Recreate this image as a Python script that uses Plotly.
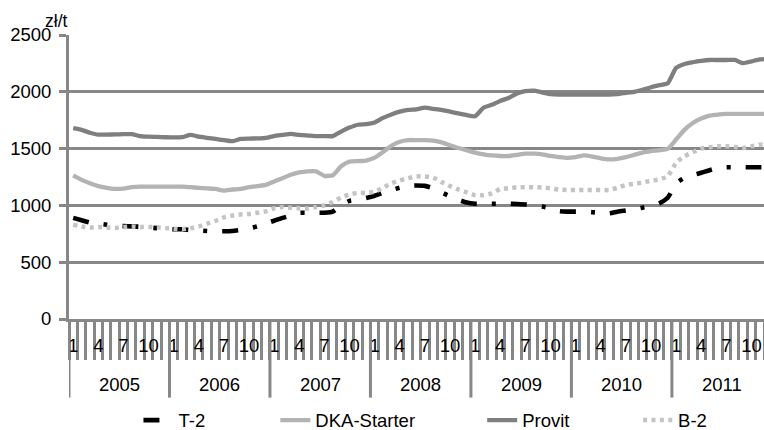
import plotly.graph_objects as go

# ---------------- data ----------------
years = [2005, 2006, 2007, 2008, 2009, 2010, 2011]
months = list(range(1, 13))
shown_months = [1, 4, 7, 10]

t2 = [890, 870, 850, 840, 830, 822, 818, 815, 812, 805, 800, 795,
      790, 790, 783, 778, 775, 772, 772, 775, 785, 798, 815, 840,
      865, 890, 910, 935, 935, 935, 935, 945, 1000, 1040, 1050, 1065,
      1085, 1110, 1135, 1155, 1172, 1175, 1172, 1150, 1115, 1080, 1050, 1025,
      1015, 1015, 1015, 1015, 1015, 1012, 1008, 1000, 990, 975, 950, 945,
      945, 945, 940, 935, 930, 945, 955, 965, 980, 994, 1018, 1067,
      1193, 1243, 1266, 1287, 1310, 1330, 1336, 1336, 1336, 1336, 1336, 1336]

dka = [1265, 1225, 1195, 1170, 1155, 1145, 1148, 1160, 1165, 1165, 1165, 1165,
       1165, 1165, 1160, 1155, 1150, 1145, 1130, 1140, 1145, 1160, 1170, 1180,
       1210, 1240, 1270, 1290, 1300, 1300, 1260, 1265, 1345, 1385, 1390, 1395,
       1420, 1470, 1525, 1560, 1575, 1575, 1575, 1570, 1555, 1530, 1505, 1485,
       1465, 1450, 1440, 1435, 1435, 1445, 1455, 1455, 1450, 1435, 1425, 1418,
       1425, 1440, 1430, 1415, 1405, 1410, 1425, 1445, 1465, 1477, 1486, 1497,
       1580, 1665, 1725, 1765, 1790, 1800, 1805, 1805, 1805, 1805, 1805, 1805]

provit = [1680, 1665, 1640, 1623, 1623, 1625, 1627, 1627, 1610, 1605, 1603, 1600,
          1598, 1600, 1620, 1605, 1595, 1585, 1575, 1565, 1585, 1588, 1590, 1595,
          1610, 1620, 1630, 1620, 1615, 1610, 1610, 1610, 1650, 1685, 1710, 1715,
          1730, 1770, 1800, 1825, 1840, 1845, 1860, 1850, 1840, 1825, 1810, 1795,
          1785, 1860, 1885, 1920, 1945, 1985, 2005, 2010, 1995, 1980, 1975, 1975,
          1975, 1975, 1975, 1975, 1975, 1980, 1990, 2000, 2018, 2040, 2058, 2075,
          2210, 2245, 2260, 2272, 2280, 2280, 2280, 2280, 2252, 2268, 2285, 2290]

b2 = [830, 815, 805, 810, 805, 800, 810, 815, 810, 810, 808, 800,
      795, 790, 800, 815, 840, 865, 895, 910, 920, 925, 935, 948,
      975, 985, 980, 975, 972, 985, 1000, 1030, 1070, 1095, 1110, 1110,
      1120, 1155, 1195, 1220, 1240, 1255, 1255, 1245, 1205, 1170, 1140, 1115,
      1090, 1090, 1105, 1145, 1150, 1160, 1160, 1160, 1158, 1150, 1140, 1135,
      1135, 1135, 1135, 1135, 1135, 1155, 1180, 1190, 1200, 1218, 1228, 1257,
      1375, 1433, 1468, 1500, 1512, 1520, 1520, 1515, 1506, 1520, 1535, 1540]

y_ticks = [0, 500, 1000, 1500, 2000, 2500]
unit_label = "zł/t"

# ---------------- derived ----------------
x_idx = list(range(len(years) * len(months)))
month_of = [m for _ in years for m in months]
tickvals = [i for i, m in zip(x_idx, month_of) if m in shown_months]
ticktext = [str(month_of[i]) for i in tickvals]

GRID = "#878787"
FONT = "Liberation Sans, Arial, sans-serif"
FS = 18.5

fig = go.Figure()

series = [
    ("T-2", t2, dict(color="#000000", width=4.6, dash="16px,15px,4px,15px"), "legend"),
    ("DKA-Starter", dka, dict(color="#b3b3b3", width=4.3), "legend2"),
    ("Provit", provit, dict(color="#7f7f7f", width=4.3), "legend3"),
    ("B-2", b2, dict(color="#c4c4c4", width=4.5, dash="4px,4.4px"), "legend4"),
]
for name, vals, line, lg in series:
    fig.add_trace(go.Scatter(x=x_idx, y=vals, name=name, mode="lines",
                             line=dict(shape="spline", smoothing=0.5, **line),
                             legend=lg, hoverinfo="skip"))

# plot geometry (pixels)
W, H = 764, 430
L, R, T, B = 68.5, 0, 35, 110.7
ph = H - T - B
pw = W - L - R

def py(pix):  # pixel y -> paper y
    return (H - B - pix) / ph

def px(pix):  # pixel x -> paper x
    return (pix - L) / pw

# year separators and labels
n_m = len(months)
for k, yr in enumerate(years):
    fig.add_shape(type="line", xref="x", yref="paper",
                  x0=k * n_m - 0.5, x1=k * n_m - 0.5, y0=0, y1=py(398),
                  line=dict(color=GRID, width=3), layer="above")
    fig.add_annotation(x=k * n_m + (n_m - 1) / 2, xref="x", y=py(385), yref="paper",
                       text=str(yr), showarrow=False, yanchor="middle",
                       font=dict(size=FS, family=FONT, color="#000"))

fig.add_annotation(x=px(42), xref="paper", y=py(21), yref="paper", text=unit_label,
                   showarrow=False, xanchor="left", yanchor="middle",
                   font=dict(size=17.5, family=FONT, color="#000"))

leg_common = dict(orientation="h", yanchor="middle", xanchor="left", y=py(421),
                  font=dict(size=FS, family=FONT, color="#000"),
                  bgcolor="rgba(0,0,0,0)", itemwidth=30)
text_starts = [183, 320, 527, 683]
legs = {}
for key, ts in zip(["legend", "legend2", "legend3", "legend4"], text_starts):
    legs[key] = dict(x=px(ts - 45), **leg_common)

fig.update_layout(
    width=W, height=H,
    margin=dict(l=L, r=R, t=T, b=B, pad=0, autoexpand=False),
    plot_bgcolor="white", paper_bgcolor="white",
    font=dict(family=FONT, size=FS, color="#000"),
    showlegend=True,
    xaxis=dict(range=[-0.5, 82.5], showgrid=False, zeroline=False,
               showline=True, linecolor=GRID, linewidth=3,
               tickmode="array", tickvals=tickvals, ticktext=ticktext,
               ticks="outside", ticklen=8, tickcolor="rgba(0,0,0,0)",
               tickfont=dict(size=FS),
               minor=dict(tick0=-0.5, dtick=1, ticks="outside", ticklen=38,
                          tickwidth=3, tickcolor=GRID, showgrid=False),
               fixedrange=True, automargin=False),
    yaxis=dict(range=[0, 2500], tickmode="array", tickvals=y_ticks,
               showgrid=True, gridcolor=GRID, gridwidth=2.5, zeroline=False,
               showline=True, linecolor=GRID, linewidth=3,
               ticks="outside", ticklen=7, tickcolor=GRID, tickwidth=2.5,
               ticklabelstandoff=4, tickfont=dict(size=FS),
               fixedrange=True, automargin=False),
    **legs,
)

fig.write_html("out.html", config={"displayModeBar": False},
               post_script="document.body.style.margin='0';")
